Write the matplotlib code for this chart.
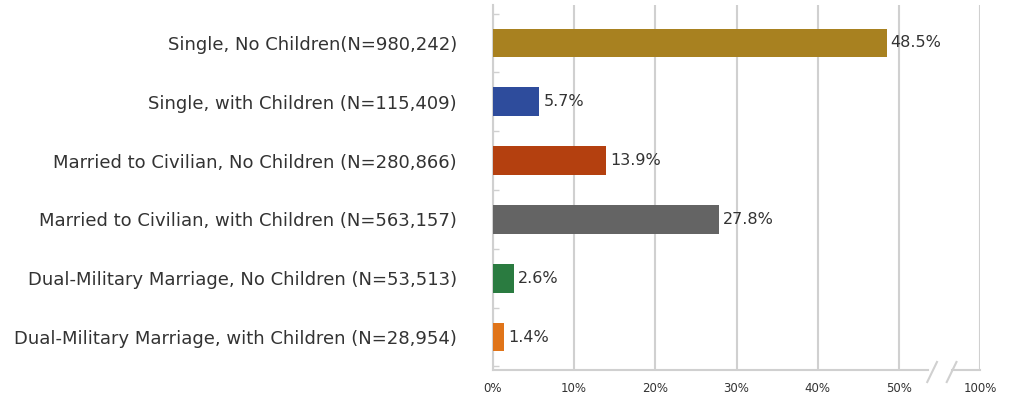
import matplotlib
matplotlib.use("Agg")
import matplotlib.pyplot as plt
import numpy as np

# data
categories = [
    "Single, No Children(N=980,242)",
    "Single, with Children (N=115,409)",
    "Married to Civilian, No Children (N=280,866)",
    "Married to Civilian, with Children (N=563,157)",
    "Dual-Military Marriage, No Children (N=53,513)",
    "Dual-Military Marriage, with Children (N=28,954)",
]
values = [48.5, 5.7, 13.9, 27.8, 2.6, 1.4]
colors = ["#A88120", "#2E4C9C", "#B4400F", "#646464", "#2A7B40", "#E07419"]
tick_pos = [0, 10, 20, 30, 40, 50, 60]
tick_labels = ["0%", "10%", "20%", "30%", "40%", "50%", "100%"]

GRID = "#D0D0D0"
TXT = "#333333"

fig = plt.figure(figsize=(10.18, 3.99), dpi=100)
ax = fig.add_axes([493/1018, 1 - 370/399, (980 - 493)/1018, (370 - 5)/399])

y = np.arange(len(categories))
ax.barh(y, values, height=0.49, color=colors, zorder=3)
for yi, v in zip(y, values):
    ax.text(v + 0.5, yi, f"{v:.1f}%", va="center", ha="left", fontsize=11.5, color=TXT)

ax.set_xlim(0, 60)
ax.set_ylim(len(categories) - 0.44, -0.646)
ax.set_yticks(y)
ax.set_yticklabels(categories, fontsize=13, color=TXT)
ax.set_yticks(np.arange(len(categories) + 1) - 0.5, minor=True)
ax.tick_params(axis="y", which="major", length=0, pad=26)
ax.tick_params(axis="y", which="minor", length=4, direction="in", color=GRID, width=1)

ax.set_xticks(tick_pos)
ax.set_xticklabels(tick_labels, fontsize=8.5, color=TXT)
ax.tick_params(axis="x", length=0, pad=9)
ax.grid(axis="x", color=GRID, linewidth=1.5, zorder=0)

for s in ["top", "right", "bottom"]:
    ax.spines[s].set_visible(False)
ax.spines["left"].set_color(GRID)
ax.spines["left"].set_linewidth(1.5)

# bottom axis line with break marks between 50% and 100%
tr = ax.get_xaxis_transform()
ax.plot([0, 53.6], [0, 0], color=GRID, lw=1.5, transform=tr, clip_on=False, zorder=4)
ax.plot([56.6, 60], [0, 0], color=GRID, lw=1.5, transform=tr, clip_on=False, zorder=4)
ax.plot([53.5, 54.7], [-0.033, 0.022], color=GRID, lw=1.5, transform=tr, clip_on=False)
ax.plot([55.9, 57.1], [-0.033, 0.022], color=GRID, lw=1.5, transform=tr, clip_on=False)

fig.savefig("out.png", dpi=100, facecolor="white")
